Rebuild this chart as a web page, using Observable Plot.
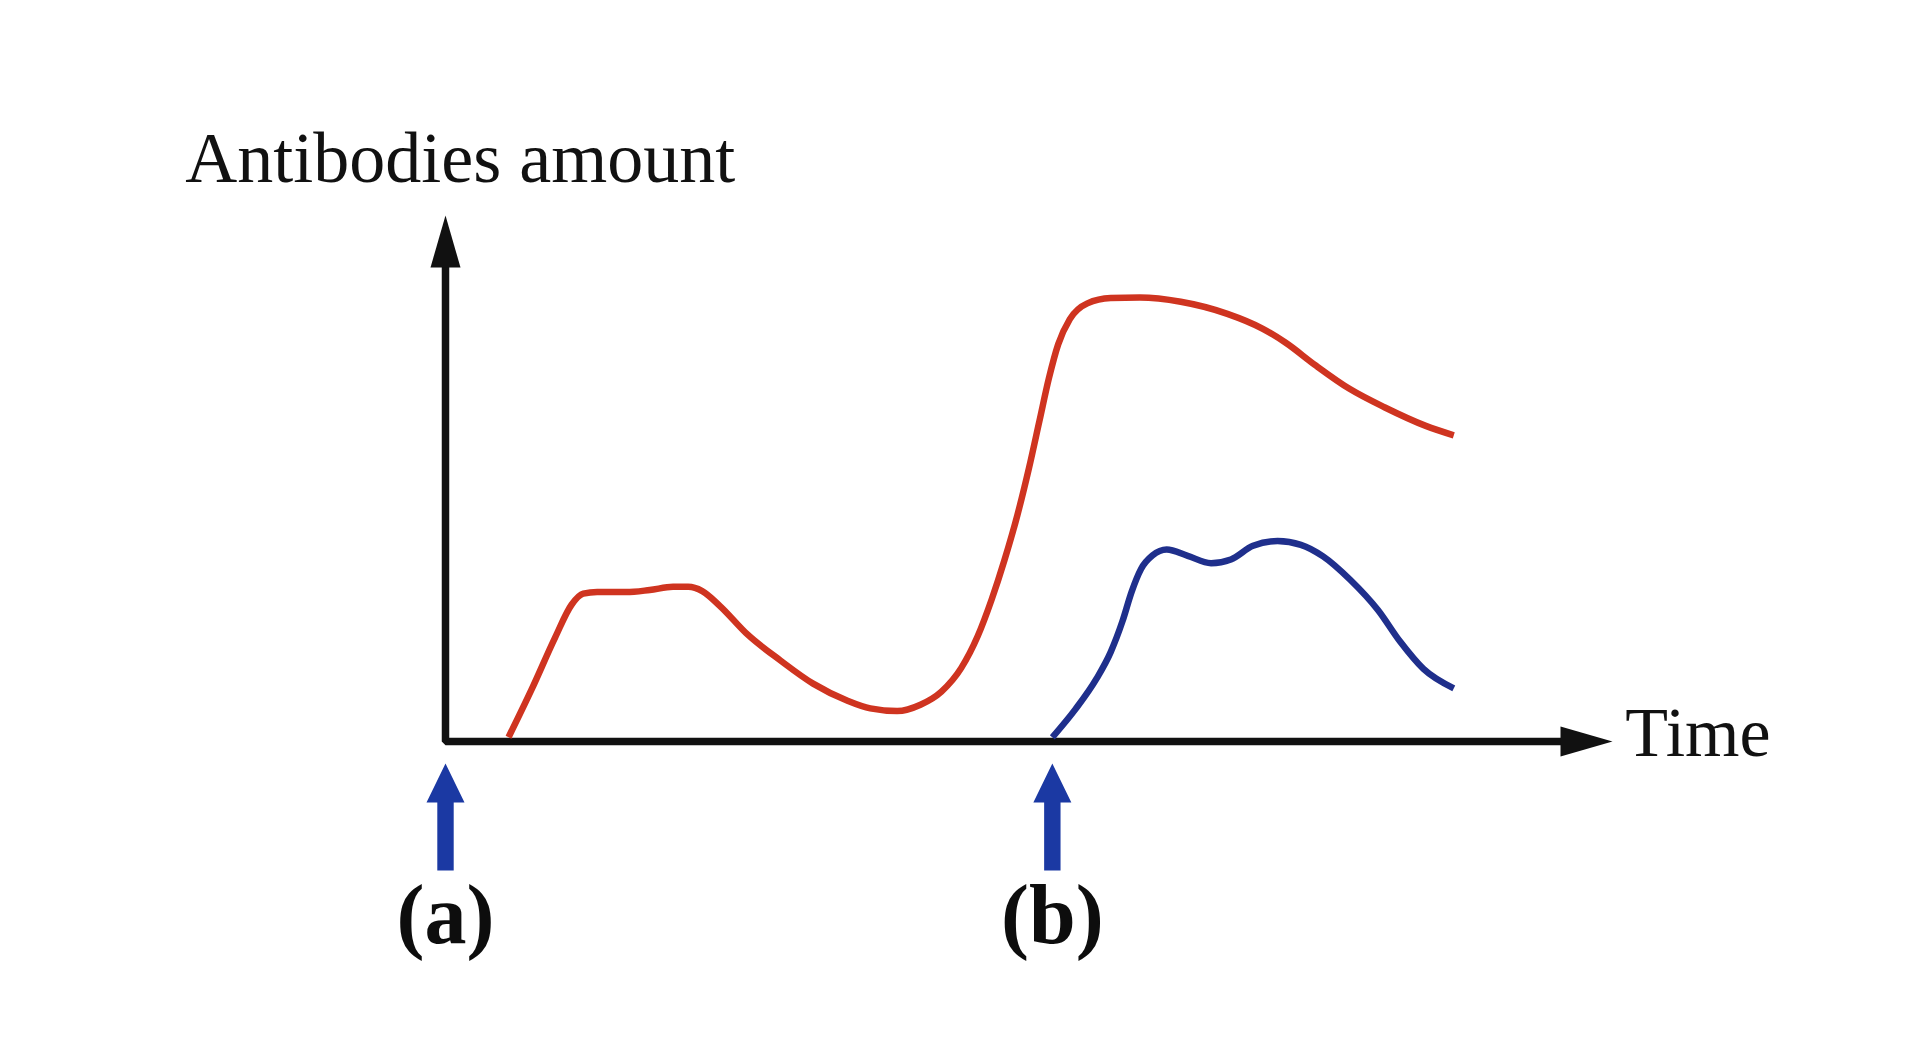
<!DOCTYPE html>
<html>
<head>
<meta charset="utf-8">
<script src="https://cdn.jsdelivr.net/npm/d3@7"></script>
<script src="https://cdn.jsdelivr.net/npm/@observablehq/plot@0.6"></script>
<style>
  html, body { margin: 0; padding: 0; background: #ffffff; }
  #chart svg { display: block; }
</style>
</head>
<body>
<div id="chart"></div>
<script>
// ---- data (arbitrary units) ----
const primaryTime   = [5.4, 7.4, 9.4, 10.8, 11.8, 13.0, 15.5, 17.5, 19.5, 20.8, 22.0, 23.5, 25.9, 28.7, 31.5, 34.4, 36.4, 38.7, 40.7, 42.5, 44.2, 45.6, 46.8, 47.9, 49.0, 50.0, 50.9, 51.7, 52.5, 53.5, 55.0, 57.0, 59.5, 63.0, 67.0, 70.0, 72.0, 74.5, 77.5, 80.5, 84.0, 86.4];
const primaryAmount = [0.8, 10.0, 19.8, 26.0, 28.1, 28.4, 28.4, 28.8, 29.4, 29.4, 28.6, 25.8, 20.3, 15.4, 11.0, 7.8, 6.3, 5.8, 7.0, 9.5, 14.0, 20.0, 27.0, 34.5, 43.0, 52.0, 61.0, 69.0, 75.5, 80.3, 83.3, 84.3, 84.4, 83.6, 81.3, 78.5, 75.8, 71.6, 67.0, 63.5, 60.0, 58.2];

const secondTime    = [52.0, 54.0, 55.8, 57.0, 58.0, 58.8, 59.6, 60.6, 61.8, 63.6, 65.6, 67.3, 69.2, 71.3, 73.3, 75.2, 77.5, 79.9, 81.8, 83.8, 86.4];
const secondAmount  = [0.8, 6.2, 12.0, 17.0, 22.8, 28.5, 32.8, 35.4, 36.5, 35.3, 33.9, 34.6, 37.2, 38.1, 37.4, 35.2, 30.8, 25.0, 19.0, 13.8, 10.1];

const doseTimes  = [0, 52];
const doseLabels = ["(a)", "(b)"];

const yTitle = "Antibodies amount";
const xTitle = "Time";
const timeMax = 100;
const amountMax = 100;

// ---- derived tables ----
const primary = primaryTime.map((t, i) => ({t, v: primaryAmount[i]}));
const second  = secondTime.map((t, i) => ({t, v: secondAmount[i]}));
const doses   = doseTimes.map((t, i) => ({t, label: doseLabels[i]}));

// axis polyline (L-shape) ending under the arrowheads
const axisPath = [
  {t: 0, v: amountMax - 5},
  {t: 0, v: 0},
  {t: timeMax - 3, v: 0}
];
const axisTips = [
  {t: 0, v: amountMax, rot: 0},
  {t: timeMax, v: 0, rot: 90}
];

// custom filled symbols (tip at the anchor point, pointing up)
const triangleHead = {
  draw(ctx, size) {
    const r = Math.sqrt(size / Math.PI);
    ctx.moveTo(0, 0);
    ctx.lineTo(1.5 * r, 5.2 * r);
    ctx.lineTo(-1.5 * r, 5.2 * r);
    ctx.closePath();
  }
};
const blockArrow = {
  draw(ctx, size) {
    const r = Math.sqrt(size / Math.PI);
    ctx.moveTo(0, 0);
    ctx.lineTo(1.9 * r, 3.9 * r);
    ctx.lineTo(0.82 * r, 3.9 * r);
    ctx.lineTo(0.82 * r, 10.7 * r);
    ctx.lineTo(-0.82 * r, 10.7 * r);
    ctx.lineTo(-0.82 * r, 3.9 * r);
    ctx.lineTo(-1.9 * r, 3.9 * r);
    ctx.closePath();
  }
};

const serif = "'Liberation Serif', 'Times New Roman', Times, serif";

const chart = Plot.plot({
  width: 1928,
  height: 1048,
  marginLeft: 445,
  marginRight: 316,
  marginTop: 215,
  marginBottom: 307,
  x: {domain: [0, timeMax], axis: null},
  y: {domain: [0, amountMax], axis: null},
  style: {fontFamily: serif, background: "#ffffff", color: "#111"},
  marks: [
    // axes
    Plot.line(axisPath, {x: "t", y: "v", stroke: "#111", strokeWidth: 7.5, strokeLinejoin: "miter", strokeLinecap: "butt"}),
    Plot.dot(axisTips, {x: "t", y: "v", symbol: triangleHead, r: 10, rotate: "rot", fill: "#111", stroke: "none"}),
    // curves
    Plot.line(primary, {x: "t", y: "v", curve: "monotone-x", stroke: "#cf3420", strokeWidth: 6.5, strokeLinecap: "butt", strokeLinejoin: "round"}),
    Plot.line(second,  {x: "t", y: "v", curve: "monotone-x", stroke: "#1f2f8c", strokeWidth: 6.5, strokeLinecap: "butt", strokeLinejoin: "round"}),
    // dose arrows and labels
    Plot.dot(doses, {x: "t", y: () => -4.2, symbol: blockArrow, r: 10, fill: "#1b39a3", stroke: "none"}),
    Plot.text(doses, {x: "t", y: () => -38.4, text: "label", fontSize: 84, fontWeight: "bold", lineAnchor: "bottom", textAnchor: "middle", fill: "#0d0d0d"}),
    // titles
    Plot.text([yTitle], {x: () => -22.3, y: () => 106.3, text: d => d, fontSize: 72, lineAnchor: "bottom", textAnchor: "start", fill: "#111"}),
    Plot.text([xTitle], {x: () => 101.1, y: () => -2.7, text: d => d, fontSize: 70, lineAnchor: "bottom", textAnchor: "start", fill: "#111"})
  ]
});

document.getElementById("chart").appendChild(chart);
</script>
</body>
</html>
